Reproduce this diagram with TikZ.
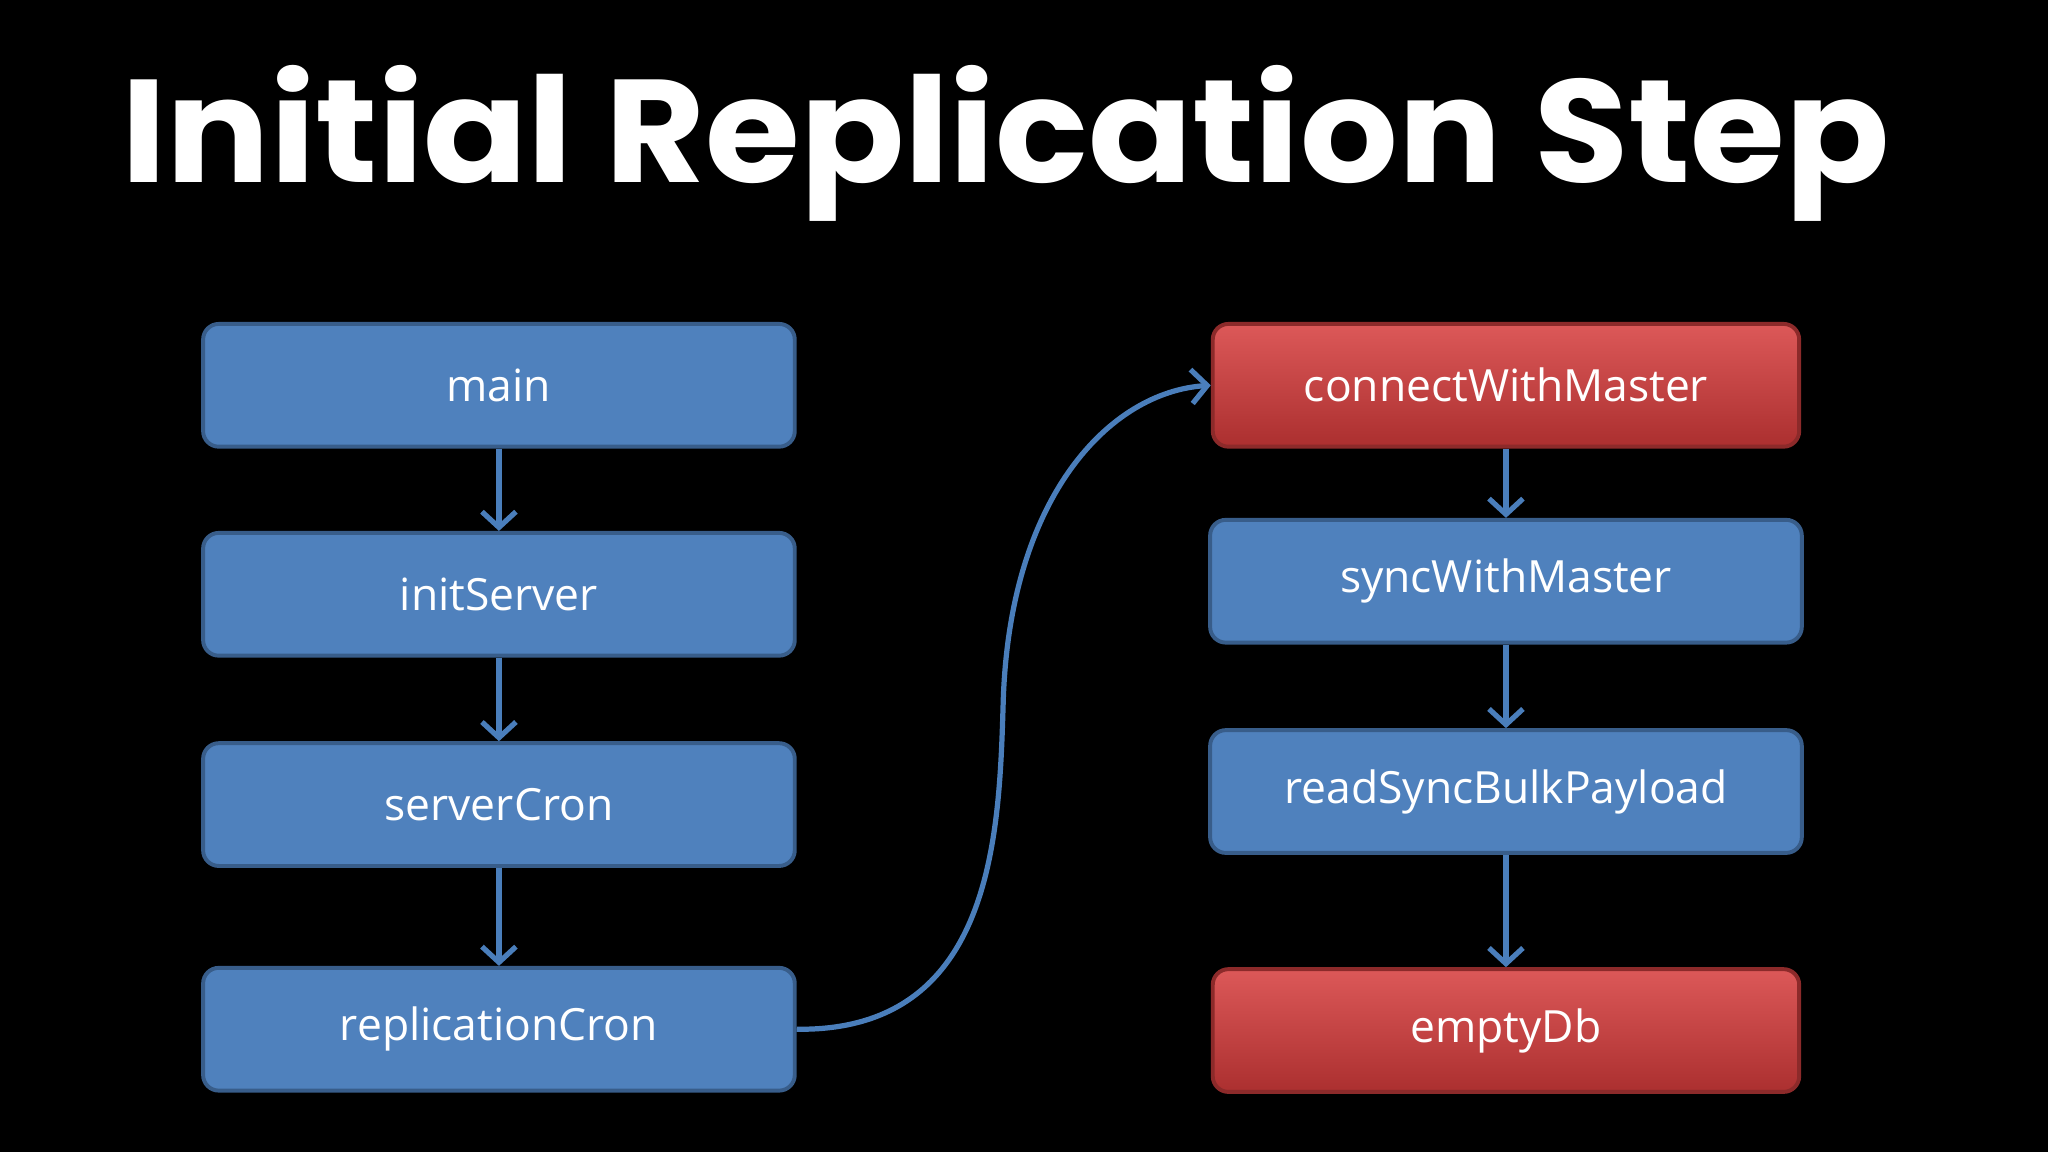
\documentclass[tikz,border=0pt]{standalone}
\usepackage{fontspec}
\setmainfont{Open Sans}
\newfontfamily\titlefont{Poppins}
\usetikzlibrary{arrows.meta}
\definecolor{bfill}{HTML}{4F81BD}
\definecolor{bdraw}{HTML}{385D8A}
\definecolor{rfill}{HTML}{D63B3B}
\definecolor{rdraw}{HTML}{8C2A2A}
\definecolor{arr}{HTML}{4A7EBB}
\begin{document}
\begin{tikzpicture}[x=1pt,y=-1pt,
  box/.style={draw=bdraw,line width=3pt,fill=bfill,rounded corners=12pt,minimum width=453pt,minimum height=94pt,text=white,font=\fontsize{34}{38}\selectfont,inner sep=0pt},
  rbox/.style={box,draw=rdraw,top color=rfill!85!white,bottom color=rfill!80!black},
  con/.style={draw=arr,line width=4pt,-{Straight Barb[length=12pt,width=26pt,line width=4pt]}}]
\fill[black] (0,0) rectangle (1568,882);
\useasboundingbox (0,0) rectangle (1568,882);
\node[text=white,font=\titlefont\bfseries\fontsize{112}{120}\selectfont,xscale=1.05] (title) at (770,110) {Initial Replication Step};
\node[box] (main) at (382,295) {main};
\node[box] (init) at (382,455) {initServer};
\node[box] (cron) at (382,616) {serverCron};
\node[box] (repl) at (382,788) {replicationCron};
\node[rbox,minimum width=449pt] (conn) at (1153,295) {connectWithMaster};
\node[box] (sync) at (1153,445) {syncWithMaster};
\node[box] (read) at (1153,606) {readSyncBulkPayload};
\node[rbox,minimum width=449pt] (empty) at (1153,789) {emptyDb};
\draw[con] (main) -- (init);
\draw[con] (init) -- (cron);
\draw[con] (cron) -- (repl);
\draw[con] (conn) -- (sync);
\draw[con] (sync) -- (read);
\draw[con] (read) -- (empty);
\draw[con] (repl.east) .. controls (760,790) and (765,640) .. (768,540) .. controls (772,380) and (850,300) .. (conn.west);
\end{tikzpicture}
\end{document}
